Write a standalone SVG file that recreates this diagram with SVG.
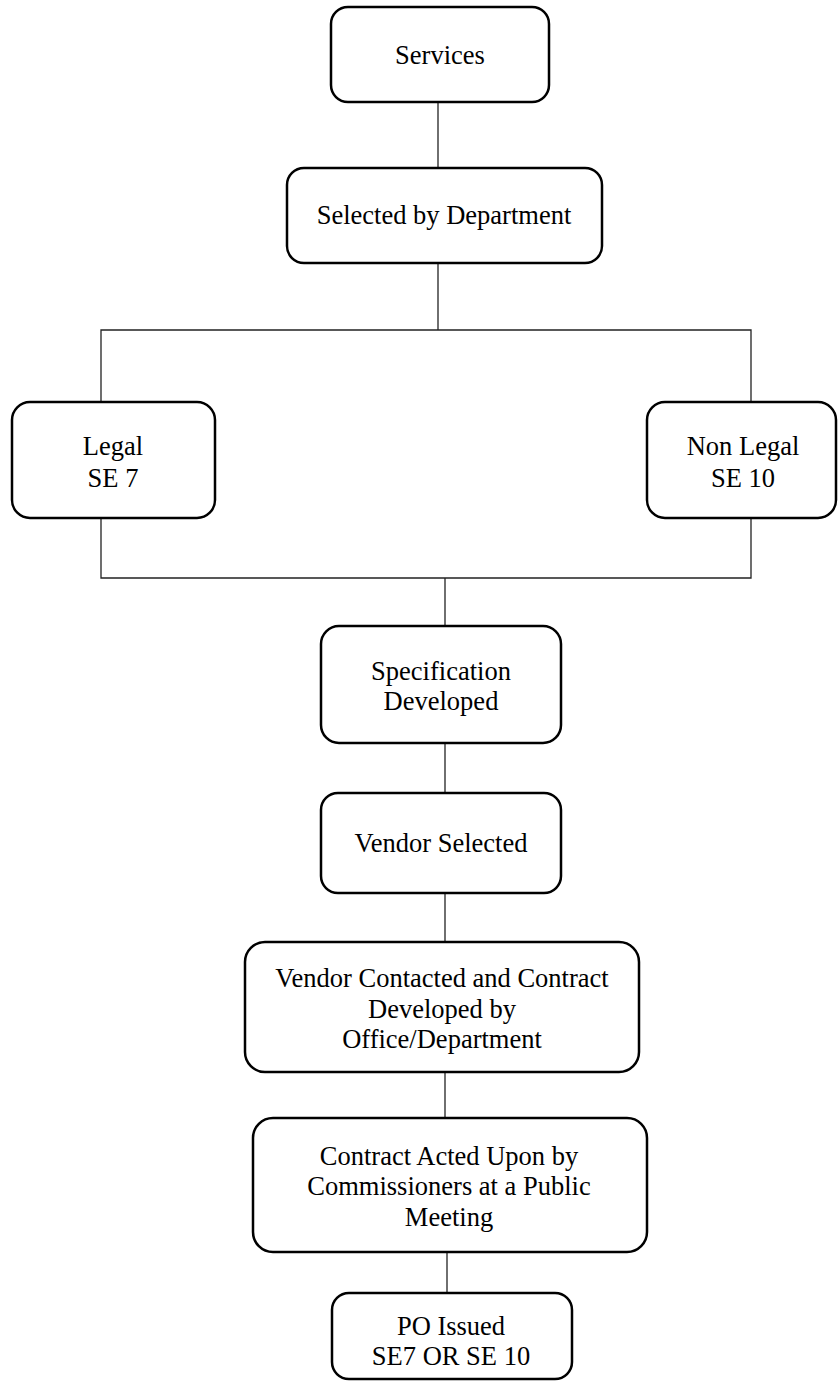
<svg xmlns="http://www.w3.org/2000/svg" width="838" height="1382" viewBox="0 0 838 1382">
  <style>
    .box { fill: #ffffff; stroke: #000000; stroke-width: 2.5; }
    .link { fill: none; stroke: #222222; stroke-width: 1.3; }
    .label { font-family: "Liberation Serif", "Times New Roman", serif; font-size: 26.5px; fill: #000000; text-anchor: middle; }
  </style>
  <rect width="838" height="1382" fill="#ffffff"/>

  <!-- connectors -->
  <g id="connectors">
    <line class="link" x1="438" y1="102" x2="438" y2="168"/>
    <line class="link" x1="438" y1="263" x2="438" y2="330"/>
    <polyline class="link" points="101,402 101,330 751,330 751,402"/>
    <polyline class="link" points="101,518 101,578 751,578 751,518"/>
    <line class="link" x1="445" y1="578" x2="445" y2="626"/>
    <line class="link" x1="445" y1="743" x2="445" y2="793"/>
    <line class="link" x1="445" y1="893" x2="445" y2="942"/>
    <line class="link" x1="445" y1="1072" x2="445" y2="1118"/>
    <line class="link" x1="447" y1="1252" x2="447" y2="1293"/>
  </g>

  <g id="services">
    <rect class="box" x="331" y="7" width="218" height="95" rx="17"/>
    <text class="label" x="440" y="64">Services</text>
  </g>

  <g id="selected-by-department">
    <rect class="box" x="287" y="168" width="315" height="95" rx="17"/>
    <text class="label" x="444" y="224">Selected by Department</text>
  </g>

  <g id="legal">
    <rect class="box" x="12" y="402" width="203" height="116" rx="18"/>
    <text class="label" x="113" y="455">Legal</text>
    <text class="label" x="113" y="487">SE 7</text>
  </g>

  <g id="non-legal">
    <rect class="box" x="647" y="402" width="189" height="116" rx="18"/>
    <text class="label" x="743" y="455">Non Legal</text>
    <text class="label" x="743" y="487">SE 10</text>
  </g>

  <g id="specification-developed">
    <rect class="box" x="321" y="626" width="240" height="117" rx="18"/>
    <text class="label" x="441" y="680">Specification</text>
    <text class="label" x="441" y="710">Developed</text>
  </g>

  <g id="vendor-selected">
    <rect class="box" x="321" y="793" width="240" height="100" rx="17"/>
    <text class="label" x="441" y="852">Vendor Selected</text>
  </g>

  <g id="vendor-contacted">
    <rect class="box" x="245" y="942" width="394" height="130" rx="20"/>
    <text class="label" x="442" y="987">Vendor Contacted and Contract</text>
    <text class="label" x="442" y="1018">Developed by</text>
    <text class="label" x="442" y="1048">Office/Department</text>
  </g>

  <g id="contract-acted-upon">
    <rect class="box" x="253" y="1118" width="394" height="134" rx="20"/>
    <text class="label" x="449" y="1165">Contract Acted Upon by</text>
    <text class="label" x="449" y="1195">Commissioners at a Public</text>
    <text class="label" x="449" y="1226">Meeting</text>
  </g>

  <g id="po-issued">
    <rect class="box" x="332" y="1293" width="240" height="86" rx="17"/>
    <text class="label" x="451" y="1335">PO Issued</text>
    <text class="label" x="451" y="1365">SE7 OR SE 10</text>
  </g>
</svg>
